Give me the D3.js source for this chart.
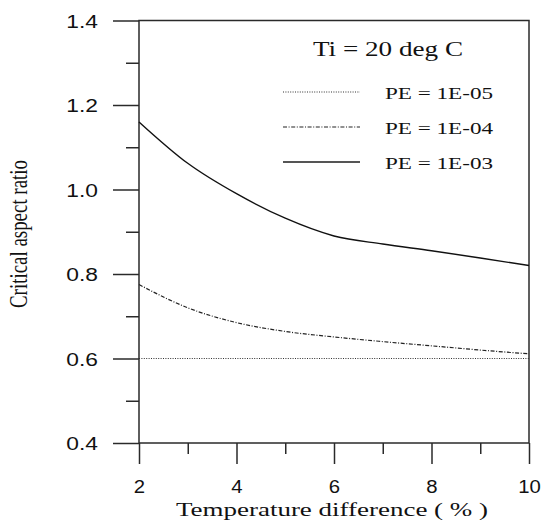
<!DOCTYPE html>
<html>
<head>
<meta charset="utf-8">
<script src="https://cdn.jsdelivr.net/npm/d3@7"></script>
<style>
  html, body { margin: 0; padding: 0; background: #fff; }
  #chart { width: 544px; height: 520px; }
  svg { display: block; }
</style>
</head>
<body>
<div id="chart"></div>
<script>
// data
const temperatureDiff = [2, 3, 4, 5, 6, 7, 8, 9, 10];
const ratioPE5 = [0.6, 0.6, 0.6, 0.6, 0.6, 0.6, 0.6, 0.6, 0.6];
const ratioPE4 = [0.775, 0.72, 0.685, 0.664, 0.651, 0.640, 0.630, 0.620, 0.611];
const ratioPE3 = [1.16, 1.062, 0.99, 0.932, 0.89, 0.871, 0.855, 0.838, 0.82];
const seriesLabels = ["PE = 1E-05", "PE = 1E-04", "PE = 1E-03"];
const legendTitle = "Ti = 20 deg C";
const xMajorTicks = [2, 4, 6, 8, 10];
const xMinorTicks = [3, 5, 7, 9];
const yMajorTicks = [0.4, 0.6, 0.8, 1.0, 1.2, 1.4];
const yMinorTicks = [0.5, 0.7, 0.9, 1.1, 1.3];
const xTitle = "Temperature difference ( % )";
const yTitle = "Critical aspect ratio";

class AspectRatioChart {
  constructor(containerId) {
    this.containerId = containerId;
    this.width = 544;
    this.height = 520;
    this.box = { left: 139, right: 529, top: 20.5, bottom: 443 };
    this.axisColor = "#2a2a2a";
    this.styles = [
      { dash: "1,1.4", width: 1.2, color: "#333" },
      { dash: "4,1.6,1,1.6", width: 1.2, color: "#222" },
      { dash: null, width: 1.4, color: "#111" }
    ];
  }

  render() {
    const box = this.box;
    const svg = d3.select(`#${this.containerId}`)
      .append("svg")
      .attr("width", this.width)
      .attr("height", this.height);

    const x = d3.scaleLinear().domain([2, 10]).range([box.left, box.right]);
    const y = d3.scaleLinear().domain([0.4, 1.4]).range([box.bottom, box.top]);

    const tickFont = "'Liberation Sans', Arial, sans-serif";
    const serifFont = "'Liberation Serif', 'Times New Roman', serif";
    const yStretch = 1.2;
    const xStretch = 1.07;

    // y axis, ticks outside on the left
    const yAxisG = svg.append("g")
      .attr("transform", `translate(${box.left},0)`)
      .call(d3.axisLeft(y).tickValues(yMajorTicks).tickSize(26)
        .tickFormat(d3.format(".1f")))
      .call((g) => g.select(".domain").remove());
    yAxisG.selectAll("line").attr("stroke", this.axisColor).attr("stroke-width", 1.5);
    yAxisG.selectAll("text")
      .attr("x", -41 / yStretch)
      .attr("dy", "0.36em")
      .attr("transform", `scale(${yStretch},1)`)
      .style("font-family", tickFont)
      .style("font-size", "19px")
      .attr("fill", "#111");

    svg.append("g")
      .attr("transform", `translate(${box.left},0)`)
      .call(d3.axisLeft(y).tickValues(yMinorTicks).tickSize(13).tickFormat(""))
      .call((g) => g.select(".domain").remove())
      .call((g) => g.selectAll("line").attr("stroke", this.axisColor).attr("stroke-width", 1.5));

    // x axis, ticks hanging below the box
    const xAxisG = svg.append("g")
      .attr("transform", `translate(0,${box.bottom})`)
      .call(d3.axisBottom(x).tickValues(xMajorTicks).tickSize(21).tickFormat(d3.format("d")))
      .call((g) => g.select(".domain").remove());
    xAxisG.selectAll("line").attr("stroke", this.axisColor).attr("stroke-width", 1.5);
    xAxisG.selectAll("text")
      .attr("y", 50)
      .attr("dy", 0)
      .attr("transform", `scale(${xStretch},1)`)
      .style("font-family", tickFont)
      .style("font-size", "19px")
      .attr("fill", "#111");

    svg.append("g")
      .attr("transform", `translate(0,${box.bottom})`)
      .call(d3.axisBottom(x).tickValues(xMinorTicks).tickSize(11).tickFormat(""))
      .call((g) => g.select(".domain").remove())
      .call((g) => g.selectAll("line").attr("stroke", this.axisColor).attr("stroke-width", 1.5));

    // frame
    svg.append("rect")
      .attr("x", box.left)
      .attr("y", box.top)
      .attr("width", box.right - box.left)
      .attr("height", box.bottom - box.top)
      .attr("fill", "none")
      .attr("stroke", this.axisColor)
      .attr("stroke-width", 1.5);

    // curves
    const seriesValues = [ratioPE5, ratioPE4, ratioPE3];
    const line = d3.line()
      .x((d) => x(d[0]))
      .y((d) => y(d[1]))
      .curve(d3.curveMonotoneX);

    seriesValues.forEach((values, index) => {
      const style = this.styles[index];
      svg.append("path")
        .datum(temperatureDiff.map((t, i) => [t, values[i]]))
        .attr("fill", "none")
        .attr("stroke", style.color)
        .attr("stroke-width", style.width)
        .attr("stroke-dasharray", style.dash)
        .attr("d", line);
    });

    // legend
    svg.append("text")
      .attr("x", 313)
      .attr("y", 56)
      .attr("textLength", 150)
      .attr("lengthAdjust", "spacingAndGlyphs")
      .style("font-family", serifFont)
      .style("font-size", "20px")
      .attr("fill", "#111")
      .text(legendTitle);

    const rowY = [99, 134, 169];
    seriesLabels.forEach((label, index) => {
      const style = this.styles[index];
      svg.append("line")
        .attr("x1", 283)
        .attr("x2", 360)
        .attr("y1", rowY[index] - 7)
        .attr("y2", rowY[index] - 7)
        .attr("stroke", index === 2 ? "#555" : style.color)
        .attr("stroke-width", index === 2 ? 2 : style.width)
        .attr("stroke-dasharray", style.dash);

      svg.append("text")
        .attr("x", 385)
        .attr("y", rowY[index])
        .attr("textLength", 108)
        .attr("lengthAdjust", "spacingAndGlyphs")
        .style("font-family", serifFont)
        .style("font-size", "16px")
        .attr("fill", "#111")
        .text(label);
    });

    // axis titles
    svg.append("text")
      .attr("x", 332)
      .attr("y", 516)
      .attr("text-anchor", "middle")
      .attr("textLength", 312)
      .attr("lengthAdjust", "spacingAndGlyphs")
      .style("font-family", serifFont)
      .style("font-size", "19px")
      .attr("fill", "#111")
      .text(xTitle);

    svg.append("text")
      .attr("transform", `translate(27,234) scale(1.35,1) rotate(-90)`)
      .attr("text-anchor", "middle")
      .attr("textLength", 148)
      .attr("lengthAdjust", "spacingAndGlyphs")
      .style("font-family", serifFont)
      .style("font-size", "18.5px")
      .attr("fill", "#111")
      .text(yTitle);
  }
}

const chart = new AspectRatioChart("chart");
chart.render();
</script>
</body>
</html>
